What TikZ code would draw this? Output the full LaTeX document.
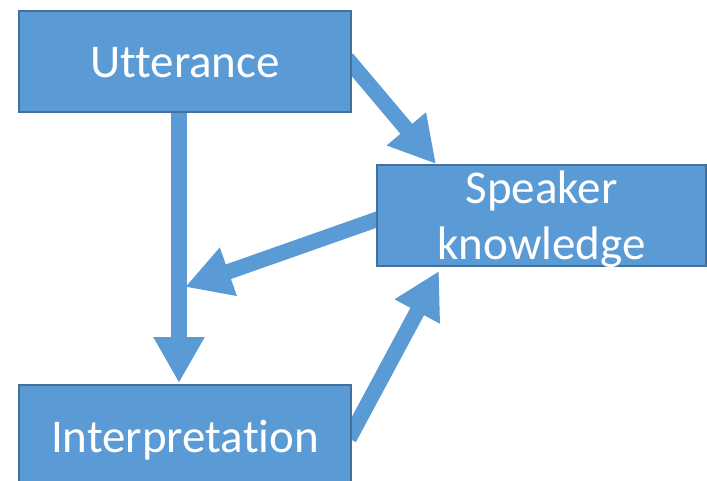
\documentclass[tikz,border=0pt]{standalone}
\usepackage{fontspec}
\setmainfont{Carlito}[Ligatures=NoCommon]
\usetikzlibrary{arrows.meta,calc,backgrounds}
\definecolor{boxfill}{HTML}{5B9BD5}
\definecolor{boxline}{HTML}{41719C}
\begin{document}
\begin{tikzpicture}[x=1pt,y=-1pt,
  box/.style={draw=boxline, line width=1.5pt, fill=boxfill, minimum height=101pt,
    inner sep=0pt, outer sep=0pt},
  boxtext/.style={text=white, font=\fontsize{47}{57}\selectfont, anchor=base,
    align=center, inner sep=0pt},
  flow/.style={draw=boxfill, line width=15.5pt,
    -{Triangle[length=46pt,width=48pt]}}]
  \useasboundingbox (0,0) rectangle (707,481);
  \clip (0,0) rectangle (707,481);

  % boxes
  \node[box, minimum width=332pt] (utt) at (185,61.5) {};
  \node[box, minimum width=329pt] (spk) at (541.5,215.5) {};
  \node[box, minimum width=332pt] (int) at (185,435.5) {};

  % labels (base anchor sits on the last line's baseline)
  \node[boxtext] (uttlbl) at (185,78) {Utterance};
  \node[boxtext] (spklbl) at (541.5,260) {Speaker\\knowledge};
  \node[boxtext] (intlbl) at (185,452) {Interpretation};

  % connectors, drawn under the boxes
  \coordinate (join) at (185,287);
  \begin{scope}[on background layer]
    \draw[flow] ($(utt.east)+(-4,-3)$) -- ($(spk.north west)+(59,-1)$);
    \draw[flow] ($(utt.south)+(-6,-4)$) -- ($(int.north)+(-6,-2)$);
    \draw[flow] ($(spk.west)+(4,2.5)$) -- (join);
    \draw[flow] ($(int.east)+(-2,3)$) -- ($(spk.south west)+(62,5)$);
  \end{scope}
\end{tikzpicture}
\end{document}
